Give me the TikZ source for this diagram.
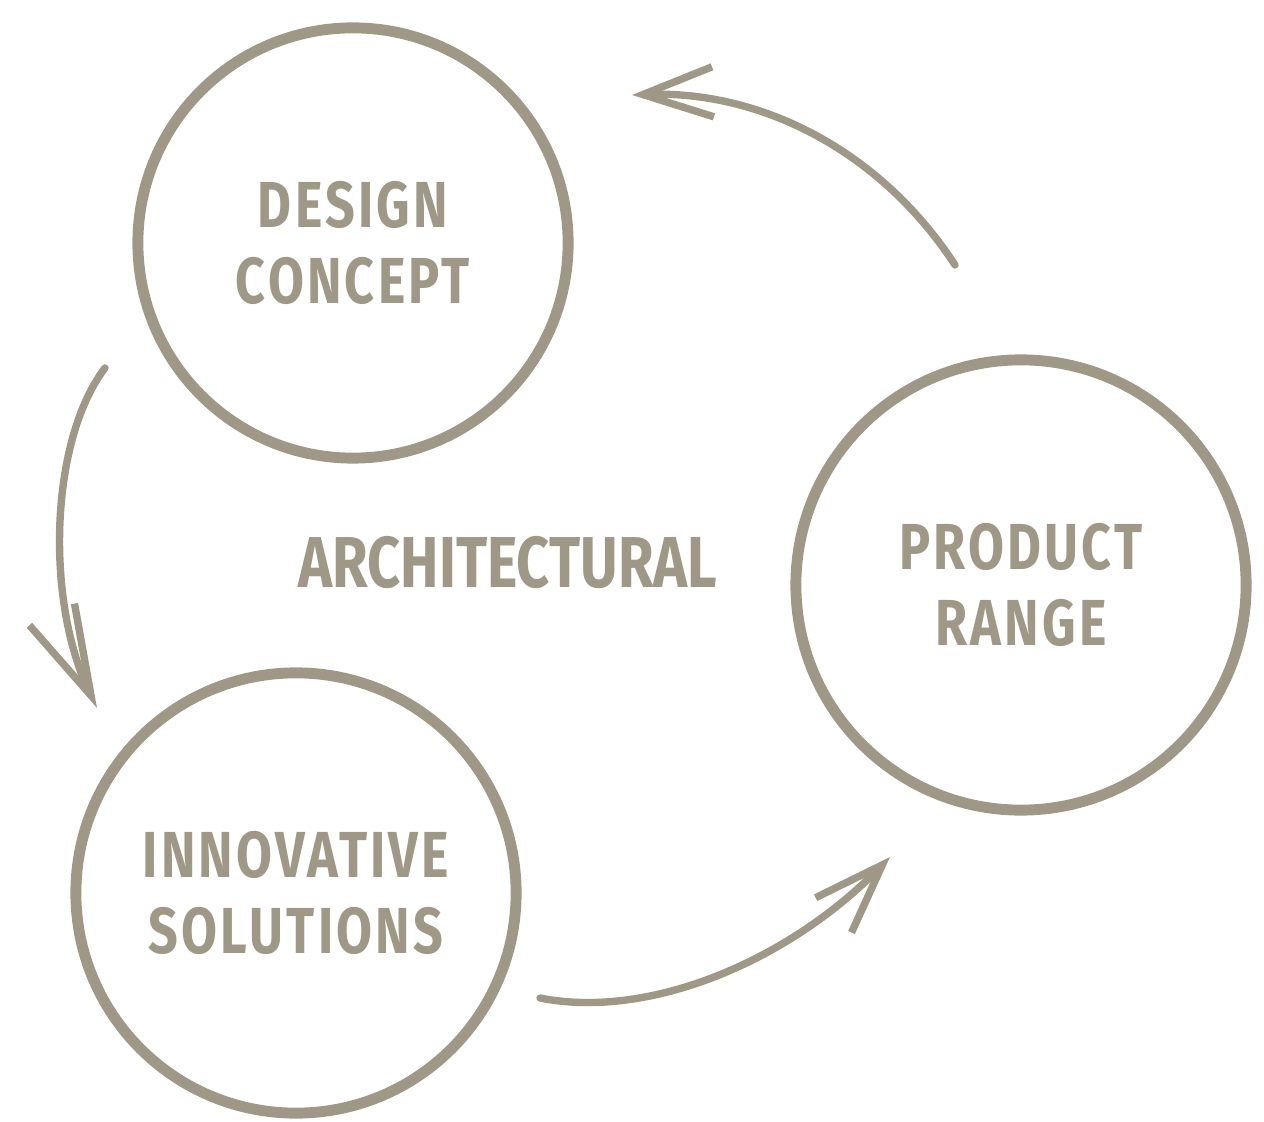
\documentclass[tikz,border=0pt]{standalone}
\usepackage{fontspec}
\usepackage{tikz}
\usetikzlibrary{arrows.meta,positioning,calc}
\usepackage{xcolor}
\newfontfamily\brushfont[FakeStretch=0.8]{Fira Sans Bold}
\newfontfamily\ringfont[FakeStretch=0.8,LetterSpace=5]{Fira Sans Bold}
\definecolor{brush}{RGB}{160,152,134}

\begin{document}
\begin{tikzpicture}[x=0.01cm,y=-0.01cm,
	ring/.style={circle, draw=brush, line width=3.1pt, text=brush, align=center,
		font=\ringfont\fontsize{18.5}{21.5}\selectfont},
	arr/.style={draw=brush, line width=2.1pt, line cap=round,
		-{Straight Barb[length=7mm,width=5mm]}}]
	\useasboundingbox (0,0) rectangle (1264,1122);
	\node[ring, minimum size=4.3cm] (design) at (353,243) {DESIGN\\CONCEPT};
	\node[ring, minimum size=4.5cm] (product) at (1021,585) {PRODUCT\\RANGE};
	\node[ring, minimum size=4.4cm] (innov) at (296,893) {INNOVATIVE\\SOLUTIONS};
	\node[text=brush, font=\brushfont\fontsize{20.5}{24}\selectfont] (arch) at (508,563) {ARCHITECTURAL};
	\coordinate (a1s) at (955,265);
	\coordinate (a1e) at (632,95);
	\coordinate (a2s) at (105,368);
	\coordinate (a2e) at (97,708);
	\coordinate (a3s) at (540,998);
	\coordinate (a3e) at (890,857);
	\draw[arr] (a1s) .. controls (880,150) and (760,90) .. (a1e);
	\draw[arr, -{Straight Barb[length=9mm,width=5mm]}] (a2s) .. controls (50,440) and (45,600) .. (a2e);
	\draw[arr] (a3s) .. controls (650,1020) and (790,960) .. (a3e);
\end{tikzpicture}
\end{document}
